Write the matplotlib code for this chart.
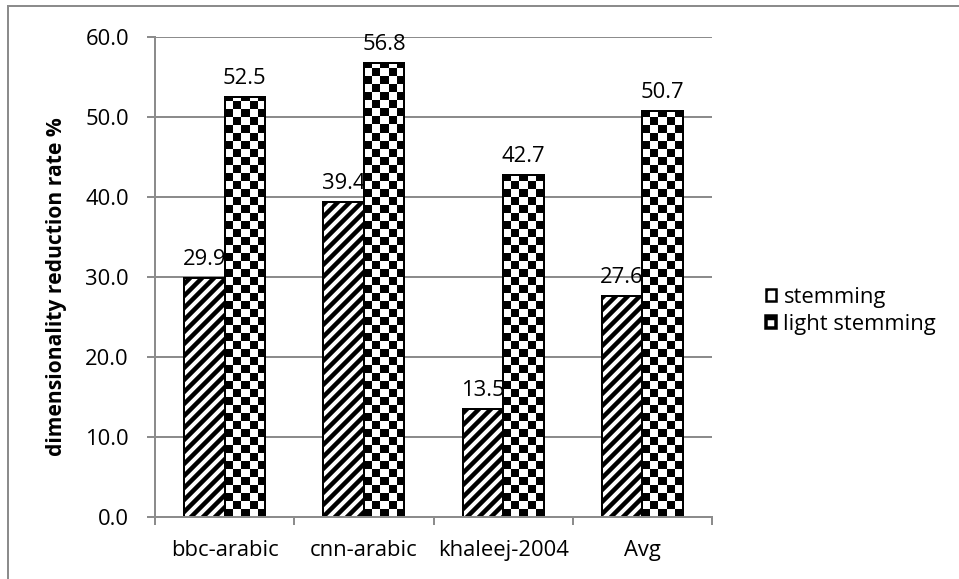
import numpy as np
import matplotlib
matplotlib.use("Agg")
import matplotlib.pyplot as plt
from matplotlib.patches import Patch, Rectangle

# ---- data ----
datasets = ["bbc-arabic", "cnn-arabic", "khaleej-2004", "Avg"]
stemming = [29.9, 39.4, 13.5, 27.6]
light_stemming = [52.5, 56.8, 42.7, 50.7]
series_names = ["stemming", "light stemming"]

GRAY = "#8c8c8c"
DPI = 72
FS = 22

plt.rcParams["font.family"] = ["Open Sans", "DejaVu Sans"]
plt.rcParams["hatch.linewidth"] = 4.5
plt.rcParams["hatch.color"] = "black"

fig = plt.figure(figsize=(959 / DPI, 579 / DPI), dpi=DPI)
ax = fig.add_axes([155 / 959, 1 - 517 / 579, (712 - 155) / 959, (517 - 37) / 579])

x = np.arange(len(datasets))
w = 0.29

# stemming bars, diagonal stripes
ax.bar(x - w / 2, stemming, w, facecolor="white", edgecolor="black",
       linewidth=2, hatch="//", zorder=3)

# light stemming bars, checkerboard fill clipped to each bar
light_bars = ax.bar(x + w / 2, light_stemming, w, facecolor="white",
                    edgecolor="none", zorder=2)
cell_h = 1.0
ncols = 5
for bar in light_bars:
    x0, h = bar.get_x(), bar.get_height()
    nrows = int(np.ceil(h / cell_h))
    board = (np.add.outer(np.arange(nrows), np.arange(ncols)) % 2).astype(float)
    img = ax.imshow(board, cmap="gray", vmin=0, vmax=1, interpolation="nearest",
                    origin="lower", aspect="auto",
                    extent=(x0, x0 + w, 0, nrows * cell_h), zorder=2.5)
    img.set_clip_path(bar)
ax.bar(x + w / 2, light_stemming, w, facecolor="none", edgecolor="black",
       linewidth=2, zorder=3)

# value labels (sit behind the bars)
for xi, v in zip(x - w / 2, stemming):
    ax.annotate(f"{v:.1f}", (xi, v), xytext=(0, 8), textcoords="offset points",
                ha="center", va="bottom", fontsize=FS, zorder=1.5)
for xi, v in zip(x + w / 2, light_stemming):
    ax.annotate(f"{v:.1f}", (xi, v), xytext=(0, 8), textcoords="offset points",
                ha="center", va="bottom", fontsize=FS, zorder=1.5)

ax.set_xlim(-0.5, len(datasets) - 0.5)
ax.set_ylim(0, 60)
ax.set_yticks(np.arange(0, 61, 10))
ax.set_yticklabels([f"{t:.1f}" for t in np.arange(0, 61, 10)], fontsize=FS)
ax.set_xticks(x)
ax.set_xticklabels(datasets, fontsize=FS)
ax.set_xticks(np.arange(-0.5, len(datasets), 1), minor=True)
ax.tick_params(axis="x", which="major", length=0, pad=23)
ax.tick_params(axis="x", which="minor", length=8, width=2, color=GRAY)
ax.tick_params(axis="y", length=8, width=2, color=GRAY, pad=18)

ax.yaxis.grid(True, color=GRAY, linewidth=2)
ax.set_axisbelow(True)
for side in ["top", "right"]:
    ax.spines[side].set_visible(False)
for side in ["left", "bottom"]:
    ax.spines[side].set_color(GRAY)
    ax.spines[side].set_linewidth(2)
    ax.spines[side].set_zorder(4)

fig.text(57 / 959, 1 - 287 / 579, "dimensionality reduction rate %",
         rotation=90, ha="center", va="center", fontsize=21, fontweight="bold")

handles = [
    Patch(facecolor="white", edgecolor="black", linewidth=2.5, hatch="/"),
    Patch(facecolor="white", edgecolor="black", linewidth=3.5, hatch="-"),
]
fig.legend(handles, series_names, loc="center left",
           bbox_to_anchor=(746 / 959, 1 - 311 / 579), frameon=False,
           fontsize=FS, handlelength=0.45, handleheight=0.45,
           handletextpad=0.35, labelspacing=0.25)

# outer chart frame
fig.patches.append(Rectangle((8 / 959, -0.2), 1.2, 1.2 - 6 / 579,
                             transform=fig.transFigure, fill=False,
                             edgecolor=GRAY, linewidth=2, clip_on=False))

fig.savefig("out.png", dpi=DPI)
